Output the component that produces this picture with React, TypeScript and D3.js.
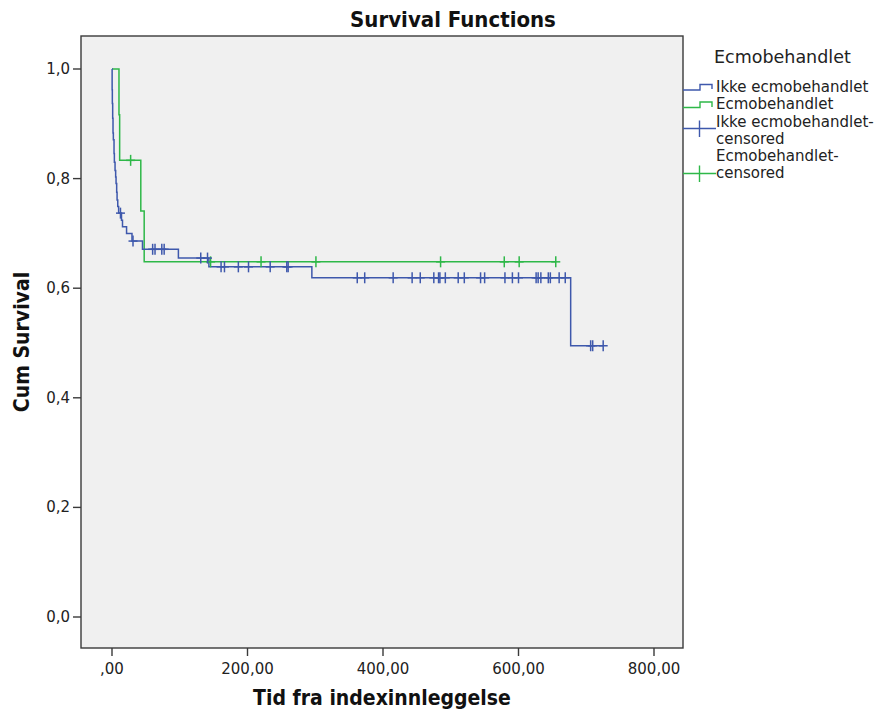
import React from "react";
import * as d3 from "d3";

const xTicks = [0, 200, 400, 600, 800];
const xTickLabels = [",00", "200,00", "400,00", "600,00", "800,00"];
const yTicks = [0, 0.2, 0.4, 0.6, 0.8, 1.0];
const yTickLabels = ["0,0", "0,2", "0,4", "0,6", "0,8", "1,0"];

// Ikke ecmobehandlet: event times and survival after each event
const blueTimes = [0.2, 0.5, 1.0, 1.5, 2.0, 3.0, 3.5, 4.5, 5.4, 6.0, 6.9, 7.5, 8.5, 9.8, 14.0, 15.5, 21.5, 29.5, 45.0, 98.0, 143.0, 295.0, 677.0];
const blueSurv = [0.962, 0.937, 0.91, 0.883, 0.871, 0.846, 0.83, 0.815, 0.803, 0.791, 0.775, 0.761, 0.749, 0.737, 0.724, 0.712, 0.7, 0.686, 0.671, 0.655, 0.639, 0.619, 0.495];
const blueCensored = [12.5, 31, 60, 63.5, 73.5, 77, 131, 141, 161, 166, 186.5, 201.5, 233.5, 258, 260, 362, 373, 415, 443, 455, 475, 482, 484, 492, 511, 520, 544, 550, 580, 591, 600, 626, 629, 633, 644, 647, 660, 669, 706.5, 709.5, 725];

// Ecmobehandlet
const greenTimes = [10.3, 11.3, 42.5, 47.5];
const greenSurv = [0.9167, 0.8333, 0.7407, 0.6481];
const greenCensored = [27.5, 145.5, 220, 301, 485, 579, 601, 655];

const legendTitle = "Ecmobehandlet";
const legendLabels = [["Ikke ecmobehandlet"], ["Ecmobehandlet"], ["Ikke ecmobehandlet-", "censored"], ["Ecmobehandlet-", "censored"]];

const BLUE = "#3E58AC";
const GREEN = "#2EB848";
const FONT = "'DejaVu Sans', sans-serif";
const BOLD = "'DejaVu Sans Condensed', 'DejaVu Sans', sans-serif";

function survAt(times: number[], surv: number[], t: number) {
  let s = 1;
  for (let i = 0; i < times.length; i++) if (times[i] <= t) s = surv[i];
  return s;
}

export default function App() {
  const x = d3.scaleLinear().domain([0, 800]).range([112, 654]);
  const y = d3.scaleLinear().domain([0, 1]).range([617, 69]);
  const frame = { left: 81, right: 683, top: 36, bottom: 648 };

  const stepLine = d3
    .line<[number, number]>()
    .x((d) => x(d[0]))
    .y((d) => y(d[1]))
    .curve(d3.curveStepAfter);

  const makePts = (times: number[], surv: number[], cens: number[]) => {
    const pts: [number, number][] = [[0, 1]];
    times.forEach((t, i) => pts.push([t, surv[i]]));
    const end = Math.max(times[times.length - 1], cens[cens.length - 1]);
    pts.push([end, surv[surv.length - 1]]);
    return pts;
  };

  const bluePts = makePts(blueTimes, blueSurv, blueCensored);
  const greenPts = makePts(greenTimes, greenSurv, greenCensored);

  const plus = (cx: number, cy: number, color: string, key: string) => (
    <g key={key} stroke={color} strokeWidth={1.5}>
      <line x1={cx - 4.5} x2={cx + 4.5} y1={cy} y2={cy} />
      <line x1={cx} x2={cx} y1={cy - 5.5} y2={cy + 5.5} />
    </g>
  );

  return (
    <svg width={884} height={720} style={{ position: "absolute", left: 0, top: 0, background: "#fff" }}>
      <text x={453} y={27} textAnchor="middle" fontFamily={BOLD} fontWeight="bold" fontSize={22} fill="#111">
        Survival Functions
      </text>
      <rect x={frame.left} y={frame.top} width={frame.right - frame.left} height={frame.bottom - frame.top} fill="#f0f0f0" stroke="#3a3a3a" strokeWidth={1.4} />

      {yTicks.map((v, i) => (
        <g key={"yt" + i}>
          <line x1={frame.left - 8} x2={frame.left} y1={y(v)} y2={y(v)} stroke="#3a3a3a" strokeWidth={1.4} />
          <text x={frame.left - 11} y={y(v) + 5} textAnchor="end" fontFamily={FONT} fontSize={15} fill="#222">
            {yTickLabels[i]}
          </text>
        </g>
      ))}
      {xTicks.map((v, i) => (
        <g key={"xt" + i}>
          <line x1={x(v)} x2={x(v)} y1={frame.bottom} y2={frame.bottom + 8} stroke="#3a3a3a" strokeWidth={1.4} />
          <text x={x(v)} y={frame.bottom + 26} textAnchor="middle" fontFamily={FONT} fontSize={15} fill="#222">
            {xTickLabels[i]}
          </text>
        </g>
      ))}

      <text x={(frame.left + frame.right) / 2} y={705} textAnchor="middle" fontFamily={BOLD} fontWeight="bold" fontSize={21} fill="#111">
        Tid fra indexinnleggelse
      </text>
      <text transform={`translate(29, ${(frame.top + frame.bottom) / 2}) rotate(-90)`} textAnchor="middle" fontFamily={BOLD} fontWeight="bold" fontSize={21} fill="#111">
        Cum Survival
      </text>

      <path d={stepLine(greenPts) || ""} fill="none" stroke={GREEN} strokeWidth={1.5} />
      <path d={stepLine(bluePts) || ""} fill="none" stroke={BLUE} strokeWidth={1.5} />
      {greenCensored.map((t, i) => plus(x(t), y(survAt(greenTimes, greenSurv, t)), GREEN, "gc" + i))}
      {blueCensored.map((t, i) => plus(x(t), y(survAt(blueTimes, blueSurv, t)), BLUE, "bc" + i))}

      {/* Legend */}
      <text x={714} y={63} fontFamily={FONT} fontSize={17.5} fill="#222">
        {legendTitle}
      </text>
      <path d="M683,90 H700 V84.5 H712 V89" fill="none" stroke={BLUE} strokeWidth={1.4} />
      <path d="M683,107.5 H700 V102 H712 V107" fill="none" stroke={GREEN} strokeWidth={1.4} />
      <path d="M683,128.5 H716 M699.5,120.5 V137" fill="none" stroke={BLUE} strokeWidth={1.4} />
      <path d="M683,173.5 H716 M699.5,165.5 V182" fill="none" stroke={GREEN} strokeWidth={1.4} />
      {[[91.5], [109], [126.5, 143.5], [161, 177.5]].map((ys, i) =>
        ys.map((yy, j) => (
          <text key={"lg" + i + "-" + j} x={716} y={yy} fontFamily={FONT} fontSize={15} fill="#222">
            {legendLabels[i][j]}
          </text>
        ))
      )}
    </svg>
  );
}
